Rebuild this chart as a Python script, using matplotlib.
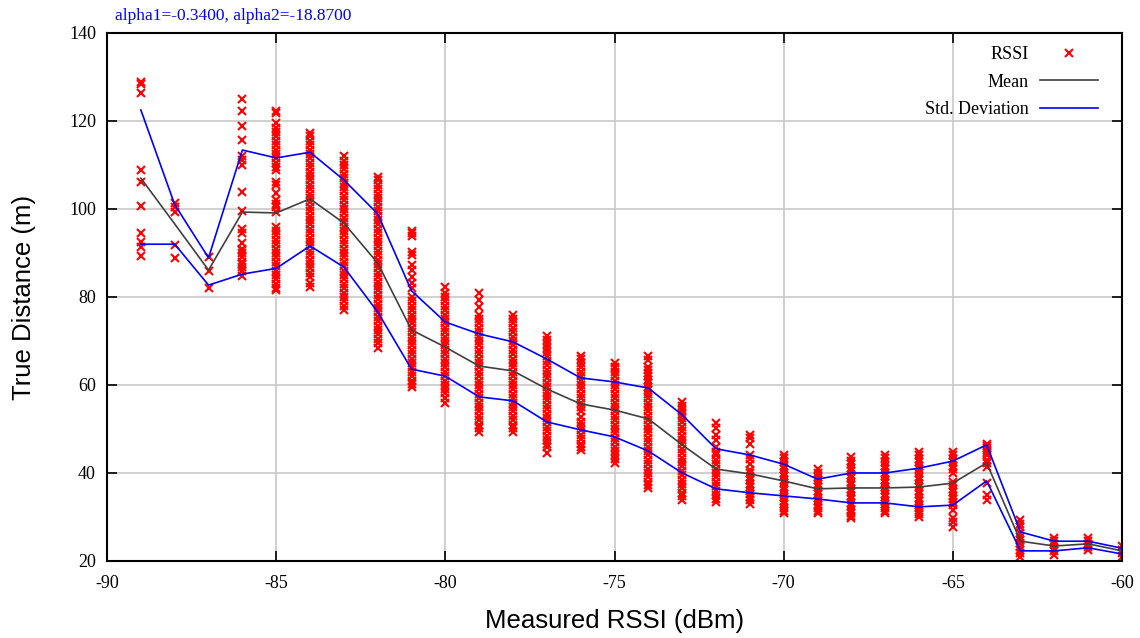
import matplotlib
matplotlib.use('Agg')
import matplotlib.pyplot as plt

# RSSI levels (dBm)
rssi = [-89, -88, -87, -86, -85, -84, -83, -82, -81, -80, -79, -78, -77, -76, -75,
        -74, -73, -72, -71, -70, -69, -68, -67, -66, -65, -64, -63, -62, -61, -60]

# mean and mean +/- std of the true distance per RSSI level
dist_mean = [107.0, 96.6, 86.1, 99.3, 99.1, 102.3, 96.8, 87.7, 72.5, 68.6, 64.3, 63.2, 59.1, 55.7, 54.3,
             52.3, 46.4, 40.9, 39.8, 38.2, 36.4, 36.6, 36.6, 36.8, 37.7, 42.3, 24.5, 23.4, 23.9, 22.3]
dist_upper = [122.5, 101.0, 88.9, 113.4, 111.6, 112.9, 106.6, 98.9, 81.4, 74.3, 71.6, 69.8, 65.9, 61.6, 60.7,
              59.3, 53.2, 45.5, 44.1, 42.0, 38.6, 40.0, 40.0, 41.1, 42.7, 46.4, 26.6, 24.5, 24.5, 22.9]
dist_lower = [92.0, 92.0, 82.7, 85.2, 86.5, 91.6, 86.8, 76.6, 63.6, 62.0, 57.3, 56.4, 51.6, 49.8, 48.2,
              45.0, 40.0, 36.4, 35.5, 34.8, 34.1, 33.2, 33.2, 32.3, 32.7, 38.2, 22.3, 22.3, 23.0, 21.6]

# measured distances per RSSI level
samples = [
    [128.8, 128.3, 126.3, 108.9, 106.2, 100.7, 94.6, 92.6, 91.4, 89.3],
    [101.4, 100.5, 99.4, 91.8, 88.9],
    [89.2, 85.9, 82.0],
    [124.9, 122.3, 118.9, 115.7, 112.0, 111.1, 110.1, 103.9, 99.5, 95.4, 94.6, 92.2, 91.0, 90.7, 89.9,
     89.0, 88.0, 87.5, 86.9, 85.8, 84.8],
    [122.3, 121.9, 119.5, 118.5, 117.5, 116.5, 115.5, 114.5, 113.5, 112.5, 111.5, 110.5, 109.5, 108.9,
     106.2, 105.5, 103.6, 102.0, 101.2, 100.5, 99.4, 96.0, 95.0, 94.0, 93.0, 92.0, 91.0, 90.0, 89.0,
     88.0, 87.0, 86.0, 85.0, 84.0, 83.0, 82.0, 81.6],
    [117.2, 116.5, 115.5, 114.5, 113.5, 112.5, 111.5, 110.5, 109.5, 108.5, 107.5, 106.5, 105.5, 104.5,
     103.5, 102.5, 101.5, 100.5, 99.5, 98.5, 97.5, 96.5, 95.5, 94.5, 93.5, 92.5, 91.5, 90.5, 89.5,
     88.5, 87.5, 86.5, 85.5, 84.5, 83.2, 82.3],
    [112.0, 111.0, 110.0, 109.0, 108.0, 107.0, 106.0, 105.0, 104.0, 103.0, 102.0, 101.0, 100.0, 99.0,
     98.0, 97.0, 96.0, 95.0, 94.0, 93.0, 92.0, 91.0, 90.0, 89.0, 88.0, 87.0, 86.0, 85.0, 84.0, 83.0,
     82.0, 81.0, 80.0, 79.0, 78.0, 77.0],
    [107.3, 106.5, 105.5, 104.5, 103.5, 102.5, 101.5, 100.5, 99.5, 98.5, 97.5, 96.5, 95.5, 94.5, 93.5,
     92.5, 91.5, 90.5, 89.5, 88.5, 87.5, 86.5, 85.5, 84.5, 83.5, 82.5, 81.5, 80.5, 79.5, 78.5, 77.5,
     76.5, 75.5, 74.5, 73.5, 72.5, 71.5, 70.5, 69.5, 68.5],
    [95.1, 94.5, 93.9, 90.3, 89.5, 87.3, 86.1, 84.6, 83.1, 82.0, 80.1, 79.0, 78.0, 77.0, 76.0, 75.0,
     74.0, 73.0, 72.0, 71.0, 70.0, 69.0, 68.0, 67.0, 66.0, 65.0, 64.0, 63.0, 62.0, 61.0, 60.2, 59.6],
    [82.3, 81.0, 80.0, 79.0, 78.0, 77.0, 76.0, 75.0, 74.0, 73.0, 72.0, 71.0, 70.0, 69.0, 68.0, 67.0,
     66.0, 65.0, 64.0, 63.0, 62.0, 61.0, 60.0, 59.0, 58.1, 57.0, 55.9],
    [81.0, 79.3, 77.8, 75.9, 75.0, 74.0, 73.0, 72.0, 71.0, 70.0, 69.0, 68.0, 67.0, 66.0, 65.0, 64.0,
     63.0, 62.0, 61.0, 60.0, 59.0, 58.0, 57.0, 56.0, 55.0, 54.0, 53.0, 52.0, 51.0, 50.2, 49.4],
    [75.9, 75.0, 74.0, 73.0, 72.0, 71.0, 70.0, 69.0, 68.0, 67.0, 66.0, 65.0, 64.0, 63.0, 62.0, 61.0,
     60.0, 59.0, 58.0, 57.0, 56.0, 55.0, 54.0, 53.0, 52.0, 51.0, 50.2, 49.4],
    [71.1, 70.2, 69.3, 68.4, 67.5, 66.5, 65.5, 64.5, 63.5, 62.5, 61.5, 60.5, 59.5, 58.5, 57.5, 56.5,
     55.5, 54.5, 53.5, 52.5, 51.5, 50.5, 49.5, 48.5, 47.5, 46.7, 46.0, 44.5],
    [66.6, 65.8, 65.0, 64.0, 63.0, 62.0, 61.0, 60.0, 59.0, 58.0, 57.0, 56.0, 55.0, 54.0, 52.8,
     51.7, 50.7, 49.7, 48.7, 47.7, 46.7, 45.9, 45.2],
    [65.1, 64.2, 63.8, 63.0, 62.0, 61.0, 60.0, 59.0, 58.0, 57.0, 56.0, 55.0, 54.0, 53.0, 52.0, 51.0,
     50.0, 49.0, 48.0, 47.0, 46.0, 45.0, 44.0, 43.1, 42.2],
    [66.6, 65.7, 64.2, 63.4, 62.7, 62.0, 61.2, 60.4, 59.6, 58.8, 58.0, 57.0, 56.0, 55.0, 54.0, 53.0,
     52.0, 51.0, 50.0, 49.0, 48.0, 47.0, 46.0, 45.0, 44.0, 43.0, 42.0, 41.0, 40.0, 39.0, 38.0,
     37.2, 36.5],
    [56.2, 55.3, 54.4, 53.5, 52.5, 51.5, 50.5, 49.5, 48.5, 47.5, 46.5, 45.5, 44.5, 43.5, 42.5, 41.5,
     40.5, 39.5, 38.5, 37.5, 36.5, 35.5, 34.7, 33.9],
    [51.3, 50.2, 48.6, 47.5, 46.0, 44.8, 44.0, 43.0, 42.0, 41.0, 40.0, 39.0, 38.0, 37.0, 36.0, 35.0,
     34.2, 33.5],
    [48.6, 47.9, 46.6, 44.1, 43.1, 42.0, 40.7, 40.0, 39.2, 38.4, 37.6, 36.8, 36.0, 35.2, 34.5, 33.9,
     33.0],
    [44.1, 43.3, 42.5, 41.7, 40.9, 40.1, 39.3, 38.5, 37.7, 36.9, 36.1, 35.3, 34.5, 33.7, 32.9, 32.1,
     31.4, 30.8],
    [40.8, 40.0, 39.2, 38.4, 37.6, 36.8, 36.0, 35.2, 34.4, 33.6, 32.8, 32.0, 31.4, 30.8],
    [43.6, 42.8, 42.0, 41.2, 40.4, 39.6, 38.8, 38.0, 37.2, 36.4, 35.6, 34.8, 34.0, 33.2, 32.4, 31.6,
     30.8, 30.2, 29.7],
    [44.1, 43.3, 42.5, 41.7, 40.9, 40.1, 39.3, 38.5, 37.7, 36.9, 36.1, 35.3, 34.5, 33.7, 32.9, 32.1,
     31.4, 30.8],
    [44.8, 44.0, 43.2, 42.4, 41.6, 40.8, 40.0, 39.2, 38.4, 37.6, 36.8, 36.0, 35.2, 34.4, 33.6, 32.8,
     32.0, 31.2, 30.6, 30.1],
    [44.8, 44.0, 43.2, 42.4, 41.6, 40.8, 39.9, 38.0, 37.2, 36.4, 35.6, 34.8, 34.0, 33.3, 32.7, 31.6,
     29.7, 28.8, 27.8],
    [46.7, 46.2, 45.7, 45.2, 44.7, 44.1, 43.0, 42.2, 41.4, 37.7, 35.0, 33.9],
    [29.3, 28.5, 27.8, 26.3, 25.5, 24.8, 24.0, 23.2, 22.5, 21.8, 21.0],
    [25.2, 24.5, 23.8, 23.0, 22.2, 21.4],
    [25.2, 24.5, 23.8, 23.1, 22.5],
    [23.3, 22.5, 21.8, 21.0],
]

x_ticks = [-90, -85, -80, -75, -70, -65, -60]
y_ticks = [20, 40, 60, 80, 100, 120, 140]

serif = ['Liberation Serif', 'DejaVu Serif']
sans = ['Liberation Sans', 'DejaVu Sans']

fig = plt.figure(figsize=(11.4, 6.38), dpi=100)
ax = fig.add_axes([0.0939, 0.1207, 0.8903, 0.8276])

xs = []
ys = []
for r, col in zip(rssi, samples):
    for d in col:
        xs.append(r)
        ys.append(d)

ax.plot(xs, ys, linestyle='none', marker='x', color='#ff0000', markersize=5.5,
        markeredgewidth=1.5, label='RSSI', zorder=2)
ax.plot(rssi, dist_mean, color='#404040', linewidth=1.2, label='Mean', zorder=3)
ax.plot(rssi, dist_upper, color='#0000ff', linewidth=1.2, label='Std. Deviation', zorder=3)
ax.plot(rssi, dist_lower, color='#0000ff', linewidth=1.2, zorder=3)

ax.set_xlim(-90, -60)
ax.set_ylim(20, 140)
ax.set_xticks(x_ticks)
ax.set_yticks(y_ticks)
ax.set_xticklabels([str(t) for t in x_ticks], family=serif, fontsize=13)
ax.set_yticklabels([str(t) for t in y_ticks], family=serif, fontsize=13)
ax.tick_params(axis='x', pad=10)
ax.tick_params(axis='y', pad=8)
ax.tick_params(direction='in', top=True, right=True, length=7, width=1.2)
ax.grid(True, color='#c8c8c8', linewidth=1.2)
ax.set_axisbelow(True)
for s in ax.spines.values():
    s.set_linewidth(1.5)

ax.set_xlabel('Measured RSSI (dBm)', family=sans, fontsize=18.5, labelpad=12)
ax.set_ylabel('True Distance (m)', family=sans, fontsize=18.5, labelpad=24)

fig.text(0.101, 0.975, 'alpha1=-0.3400, alpha2=-18.8700', color='#0000ff',
         family=serif, fontsize=12.5, va='center', ha='left')

ax.legend(loc='upper right', bbox_to_anchor=(0.976, 0.975), frameon=False,
          markerfirst=False, prop={'family': serif, 'size': 13}, handlelength=3.2,
          labelspacing=0.58, borderaxespad=0, handletextpad=0.6, borderpad=0)

fig.savefig('out.png', dpi=100)
